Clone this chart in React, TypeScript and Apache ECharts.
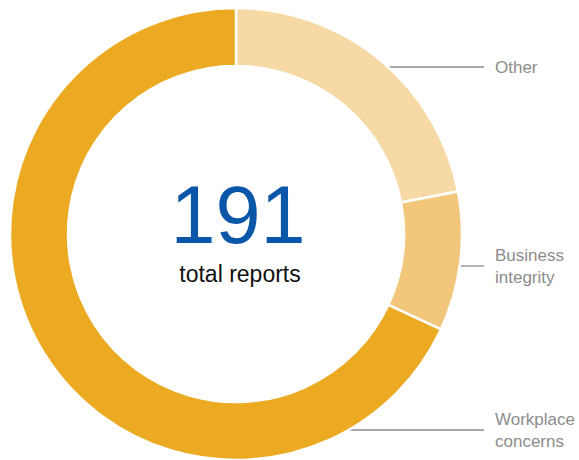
import React, { useEffect, useRef } from "react";
import * as echarts from "echarts";

// Report categories, clockwise from 12 o'clock
const categories = ["Other", "Business\nintegrity", "Workplace\nconcerns"];
const reportCounts = [42, 19, 130];
const sliceColors = ["#F7D9A5", "#F2C77B", "#EBAA22"];

// Vertical placement of each callout (px)
const calloutY = [67, 266, 430];

const CX = 236;
const CY = 234;
const R_OUT = 226;
const R_IN = 168;
const LINE_END_X = 484;
const LABEL_X = 495;

export default function App() {
  const ref = useRef<HTMLDivElement>(null);

  useEffect(() => {
    if (!ref.current) return;
    const chart = echarts.init(ref.current, undefined, { renderer: "svg" });
    const total = reportCounts.reduce((a, b) => a + b, 0);

    chart.setOption({
      animation: false,
      backgroundColor: "#ffffff",
      graphic: [
        {
          type: "text",
          x: 238,
          y: 174,
          style: {
            text: String(total),
            fill: "#0A56A8",
            font: '81px "Liberation Sans", Arial, sans-serif',
            textAlign: "center",
            textVerticalAlign: "top",
          },
        },
        {
          type: "text",
          x: 240,
          y: 262,
          style: {
            text: "total reports",
            fill: "#111111",
            font: '23px "Liberation Sans", Arial, sans-serif',
            textAlign: "center",
            textVerticalAlign: "top",
          },
        },
      ],
      series: [
        {
          type: "pie",
          center: [CX, CY],
          radius: [R_IN, R_OUT],
          startAngle: 90,
          clockwise: true,
          avoidLabelOverlap: false,
          itemStyle: { borderColor: "#ffffff", borderWidth: 2.5 },
          label: {
            show: true,
            formatter: "{b}",
            color: "#8C8C8C",
            fontFamily: '"Liberation Sans", Arial, sans-serif',
            fontSize: 17,
            lineHeight: 22,
            align: "left",
          },
          labelLine: {
            show: true,
            lineStyle: { color: "#8A8A8A", width: 1.3 },
          },
          labelLayout: (params: any) => {
            const y = calloutY[params.dataIndex];
            const dy = y - CY;
            const x0 = CX + Math.sqrt(Math.max(0, R_OUT * R_OUT - dy * dy));
            return {
              x: LABEL_X,
              y,
              align: "left",
              verticalAlign: "middle",
              labelLinePoints: [
                [x0, y],
                [LINE_END_X, y],
                [LINE_END_X, y],
              ],
            };
          },
          data: categories.map((name, i) => ({
            name,
            value: reportCounts[i],
            itemStyle: { color: sliceColors[i] },
          })),
        },
      ],
    });

    return () => chart.dispose();
  }, []);

  return (
    <div
      ref={ref}
      style={{ position: "fixed", left: 0, top: 0, width: 579, height: 460 }}
    />
  );
}
